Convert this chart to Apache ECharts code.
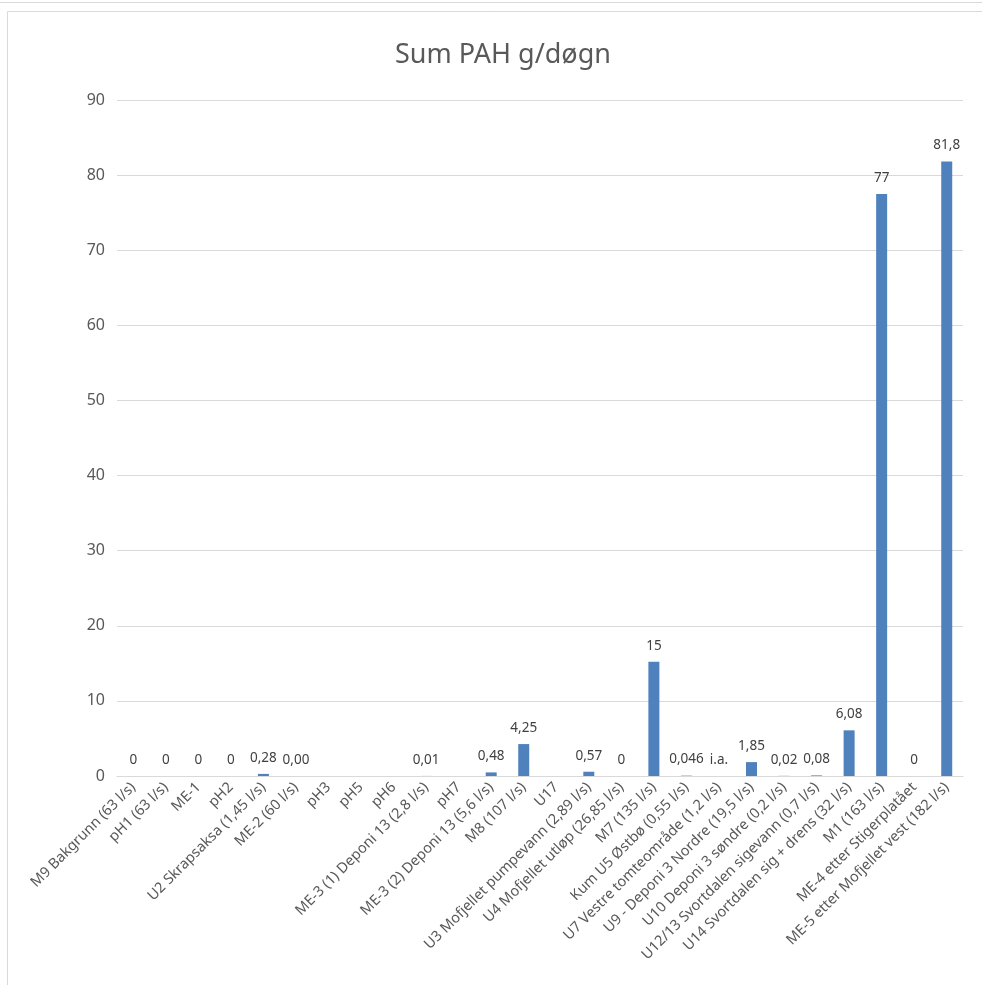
<!DOCTYPE html>
<html><head><meta charset="utf-8">
<script src="https://cdn.jsdelivr.net/npm/echarts@6/dist/echarts.min.js"></script>
<style>html,body{margin:0;padding:0;background:#fff}#c{width:982px;height:985px}</style>
</head><body><div id="c"></div>
<script>
const categories = [
  "M9 Bakgrunn (63 l/s)", "pH1 (63 l/s)", "ME-1", "pH2", "U2 Skrapsaksa (1,45 l/s)",
  "ME-2 (60 l/s)", "pH3", "pH5", "pH6", "ME-3 (1) Deponi 13 (2,8 l/s)", "pH7",
  "ME-3 (2) Deponi 13 (5,6 l/s)", "M8 (107 l/s)", "U17", "U3 Mofjellet pumpevann (2,89 l/s)",
  "U4 Mofjellet utløp (26,85 l/s)", "M7 (135 l/s)", "Kum U5 Østbø (0,55 l/s)",
  "U7 Vestre tomteområde (1,2 l/s)", "U9 - Deponi 3 Nordre (19,5 l/s)", "U10 Deponi 3 søndre (0,2 l/s)",
  "U12/13 Svortdalen sigevann (0,7 l/s)", "U14 Svortdalen sig + drens (32 l/s)", "M1 (163 l/s)",
  "ME-4 etter Stigerplatået", "ME-5 etter Mofjellet vest (182 l/s)"
];
const values = [0, 0, 0, 0, 0.28, 0, null, null, null, 0.01, null, 0.48, 4.25, null, 0.57, 0, 15.2, 0.046, 0, 1.85, 0.02, 0.08, 6.08, 77.5, 0, 81.8];
const valueLabels = ["0", "0", "0", "0", "0,28", "0,00", "", "", "", "0,01", "", "0,48", "4,25", "", "0,57", "0", "15", "0,046", "i.a.", "1,85", "0,02", "0,08", "6,08", "77", "0", "81,8"];
const yTicks = [0, 10, 20, 30, 40, 50, 60, 70, 80, 90];

const chart = echarts.init(document.getElementById('c'), null, {renderer: 'canvas'});
const FONT = 'Noto Sans';
chart.setOption({
  animation: false,
  textStyle: {fontFamily: FONT},
  graphic: [
    {type: 'line', shape: {x1: 0, y1: 2.5, x2: 982, y2: 2.5}, style: {stroke: '#d9d9d9', lineWidth: 1}},
    {type: 'rect', shape: {x: 7.5, y: 11.5, width: 990, height: 990}, style: {fill: 'none', stroke: '#d9d9d9', lineWidth: 1}}
  ],
  title: {
    text: 'Sum PAH g/døgn', left: 498, top: 37, textAlign: 'center',
    textStyle: {fontFamily: FONT, fontSize: 27, fontWeight: 'normal', color: '#595959'}
  },
  grid: {left: 117, right: 19, top: 100, bottom: 209, containLabel: false},
  xAxis: {
    type: 'category', data: categories,
    axisLine: {lineStyle: {color: '#d9d9d9'}},
    axisTick: {show: false},
    axisLabel: {interval: 0, rotate: 45, color: '#595959', fontSize: 14.5, fontFamily: FONT, margin: 9}
  },
  yAxis: {
    type: 'value', min: 0, max: 90, interval: 10,
    axisLine: {show: false}, axisTick: {show: false},
    splitLine: {lineStyle: {color: '#d9d9d9'}},
    axisLabel: {color: '#595959', fontSize: 16, fontFamily: FONT, margin: 12,
      formatter: v => yTicks.includes(v) ? String(v) : ''}
  },
  series: [{
    type: 'bar', data: values, barWidth: 11,
    itemStyle: {color: '#4f81bd'},
    label: {show: true, position: 'top', distance: 9, color: '#404040', fontSize: 13.5, fontFamily: FONT,
      formatter: p => valueLabels[p.dataIndex]}
  }]
});
</script></body></html>
